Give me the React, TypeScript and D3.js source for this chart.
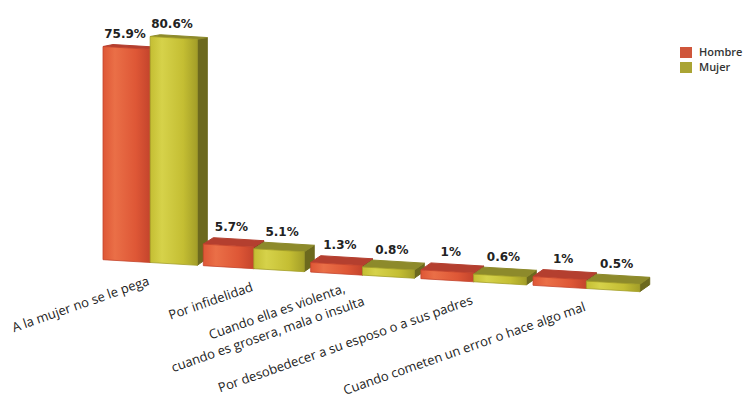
import React from "react";
import * as d3 from "d3";

const categories: string[][] = [
  ["A la mujer no se le pega"],
  ["Por infidelidad"],
  ["Cuando ella es violenta,", "cuando es grosera, mala o insulta"],
  ["Por desobedecer a su esposo o a sus padres"],
  ["Cuando cometen un error o hace algo mal"],
];
const seriesNames = ["Hombre", "Mujer"];
const hombre = [75.9, 5.7, 1.3, 1, 1];
const mujer = [80.6, 5.1, 0.8, 0.6, 0.5];
const hombreLabels = ["75.9%", "5.7%", "1.3%", "1%", "1%"];
const mujerLabels = ["80.6%", "5.1%", "0.8%", "0.6%", "0.5%"];

const W = 743;
const H = 404;

const palette = [
  { light: "#ea6f47", mid: "#de5736", dark: "#c4442c", top: "#b43f2f", side: "#8a2e21", legend: "#cf563b" },
  { light: "#d6d24a", mid: "#c4be33", dark: "#a39e28", top: "#8d8a2b", side: "#6c691e", legend: "#aaa434" },
];

export default function App() {
  const n = categories.length;
  // perspective-like group positions
  const xGroup = d3.scalePow().exponent(1.05).domain([0, n - 1]).range([103, 533]);
  const hScale = d3.scaleLinear().domain([0, 80.6]).range([0, 220]);
  const yBase = d3.scaleLinear().domain([100, 650]).range([259.5, 292.3]);
  // top-face depth shrinks as the top approaches eye level
  const topDepth = d3.scaleLinear().domain([25, 270]).range([1.5, 7]).clamp(true);
  const baseThick = 6;
  const dx = 10;
  const angle = -19.3;

  const series = [
    { name: seriesNames[0], values: hombre, labels: hombreLabels, col: palette[0] },
    { name: seriesNames[1], values: mujer, labels: mujerLabels, col: palette[1] },
  ];

  const bars: React.ReactNode[] = [];
  const valueLabels: React.ReactNode[] = [];
  const catLabels: React.ReactNode[] = [];

  categories.forEach((lines, i) => {
    const x0 = xGroup(i);
    const step = xGroup(i + 1) - xGroup(i);
    const w = step * 0.47;
    series.forEach((s, si) => {
      const xl = x0 + si * w;
      const xr = xl + w;
      const h = baseThick + hScale(s.values[i]);
      const bl = yBase(xl);
      const br = yBase(xr);
      const tl = bl - h;
      const tr = br - h;
      const depth = topDepth(tl);
      const dy = -depth;
      const front = `M${xl},${bl}L${xr},${br}L${xr},${tr}L${xl},${tl}Z`;
      const top = `M${xl},${tl}L${xr},${tr}L${xr + dx},${tr + dy}L${xl + dx},${tl + dy}Z`;
      const side = `M${xr},${br}L${xr + dx},${br - 7}L${xr + dx},${tr + dy}L${xr},${tr}Z`;
      const gid = `g${si}`;
      bars.push(
        <g key={`b${i}-${si}`} strokeLinejoin="round">
          <path d={side} fill={s.col.side} stroke={s.col.side} strokeWidth={1} />
          <path d={top} fill={s.col.top} stroke={s.col.top} strokeWidth={1} />
          <path d={front} fill={`url(#${gid})`} stroke={s.col.dark} strokeWidth={0.8} />
        </g>
      );
      const cx = (xl + xr) / 2;
      const topY = yBase(cx) - h + dy;
      valueLabels.push(
        <text
          key={`v${i}-${si}`}
          x={cx - 3.5 + depth}
          y={topY - 8}
          textAnchor="middle"
          fontFamily="DejaVu Sans, sans-serif"
          fontWeight="bold"
          fontSize={12}
          fill="#222"
        >
          {s.labels[i]}
        </text>
      );
    });
    const gc = x0 + w;
    const ax = gc;
    const ay = yBase(gc) + 22;
    const nl = lines.length;
    catLabels.push(
      <g key={`c${i}`} transform={`translate(${ax},${ay}) rotate(${angle})`}>
        {lines.map((ln, li) => {
          const perp = nl === 1 ? 0 : (li - (nl - 1) / 2) * 18.5 - 1;
          const along = nl > 1 && li < nl - 1 ? -14 : 0;
          return (
            <text
              key={li}
              x={along}
              y={perp}
              textAnchor="end"
              fontFamily="Open Sans, sans-serif"
              fontSize={13}
              fill="#222"
            >
              {ln}
            </text>
          );
        })}
      </g>
    );
  });

  return (
    <svg
      width={W}
      height={H}
      viewBox={`0 0 ${W} ${H}`}
      style={{ position: "absolute", left: 0, top: 0, background: "#fff" }}
    >
      <defs>
        {palette.map((c, k) => (
          <linearGradient key={k} id={`g${k}`} x1="0" x2="1" y1="0" y2="0">
            <stop offset="0%" stopColor={c.mid} />
            <stop offset="25%" stopColor={c.light} />
            <stop offset="70%" stopColor={c.mid} />
            <stop offset="100%" stopColor={c.dark} />
          </linearGradient>
        ))}
      </defs>
      <rect x={0} y={0} width={W} height={H} fill="#fff" />
      {bars}
      {valueLabels}
      {catLabels}
      <g>
        {series.map((s, k) => (
          <g key={k}>
            <rect x={680} y={47 + k * 15} width={12} height={11} fill={s.col.legend} />
            <text
              x={699}
              y={56 + k * 15}
              fontFamily="Open Sans, sans-serif"
              fontWeight={600}
              fontSize={11}
              fill="#333"
            >
              {s.name}
            </text>
          </g>
        ))}
      </g>
    </svg>
  );
}
